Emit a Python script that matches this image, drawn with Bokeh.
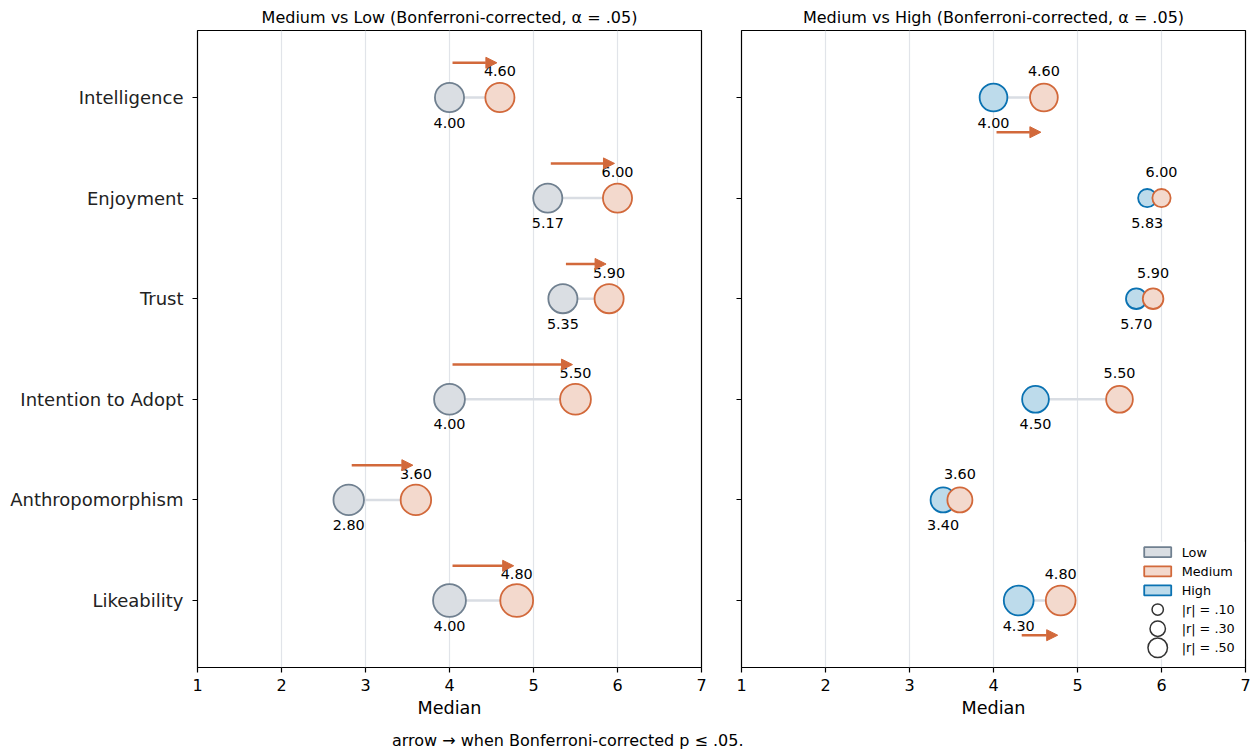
from bokeh.plotting import figure
from bokeh.models import Range1d, FixedTicker, ColumnDataSource, Arrow, NormalHead, Div
from bokeh.layouts import row, column
from bokeh.embed import file_html
from bokeh.resources import INLINE
from bokeh.core.properties import value

# ---------------- data ----------------
categories = ["Intelligence", "Enjoyment", "Trust", "Intention to Adopt",
              "Anthropomorphism", "Likeability"]
low_median = [4.00, 5.17, 5.35, 4.00, 2.80, 4.00]
medium_median = [4.60, 6.00, 5.90, 5.50, 3.60, 4.80]
high_median = [4.00, 5.83, 5.70, 4.50, 3.40, 4.30]
r_medium_vs_low = [0.38, 0.38, 0.38, 0.43, 0.42, 0.49]
r_medium_vs_high = [0.34, 0.06, 0.13, 0.31, 0.26, 0.40]
sig_medium_vs_low = [True, True, True, True, True, True]
sig_medium_vs_high = [True, False, False, False, False, True]
x_ticks = [1, 2, 3, 4, 5, 6, 7]
group_names = ["Low", "Medium", "High"]
legend_r = [0.10, 0.30, 0.50]
titles = ["Medium vs Low (Bonferroni-corrected, \u03b1 = .05)",
          "Medium vs High (Bonferroni-corrected, \u03b1 = .05)"]
x_label = "Median"
footnote = "arrow \u2192 when Bonferroni-corrected p \u2264 .05."

# ---------------- style ----------------
FONT = "DejaVu Sans"
LOW_FILL, LOW_EDGE = "#dadee3", "#708090"
MED_FILL, MED_EDGE = "#f3d9cd", "#d2693b"
HIGH_FILL, HIGH_EDGE = "#bddbeb", "#0a72b2"
ARROW_COLOR = "#d2693b"
LINK_COLOR = "#d9dde3"
GRID_COLOR = "#e1e4e9"
EDGE_W = 1.8
LEGEND_SCALE = 0.6
SHRINK = 0.036


def diam(r):
    return 18 + 34 * r


n = len(categories)
ypos = [n - 1 - i for i in range(n)]


def make_panel(title, other_vals, other_fill, other_edge, r_vals, sig,
               arrow_dy, first, show_legend):
    p = figure(frame_width=504, frame_height=637,
               x_range=Range1d(x_ticks[0], x_ticks[-1]),
               y_range=Range1d(-0.666, n - 1 + 0.666),
               output_backend="svg", toolbar_location=None,
               min_border_left=197 if first else 20,
               min_border_right=20 if first else 10,
               min_border_top=30, min_border_bottom=56,
               background_fill_color="white", border_fill_color="white",
               title=title)
    p.title.text_font = FONT
    p.title.text_font_size = "16px"
    p.title.text_font_style = "normal"
    p.title.align = "center"
    p.title.text_color = "black"
    p.title.standoff = 8

    p.outline_line_color = "black"
    p.outline_line_width = 1.2
    p.outline_line_alpha = 1

    p.xgrid.ticker = FixedTicker(ticks=x_ticks)
    p.xgrid.grid_line_color = GRID_COLOR
    p.xgrid.grid_line_width = 1.2
    p.ygrid.grid_line_color = None

    p.xaxis.ticker = FixedTicker(ticks=x_ticks)
    p.xaxis.axis_label = x_label
    p.yaxis.ticker = FixedTicker(ticks=ypos)
    for ax in (p.xaxis, p.yaxis):
        ax.axis_line_color = None
        ax.major_tick_line_color = "black"
        ax.major_tick_line_width = 1.2
        ax.major_tick_out = 5
        ax.major_tick_in = 0
        ax.minor_tick_line_color = None
        ax.major_label_text_font = FONT
        ax.axis_label_text_font = FONT
        ax.axis_label_text_font_style = "normal"
        ax.axis_label_text_font_size = "17.6px"
        ax.axis_label_text_color = "black"
    p.xaxis.major_label_text_font_size = "16px"
    p.xaxis.major_label_text_color = "black"
    p.xaxis.major_label_standoff = 6
    p.xaxis.axis_label_standoff = 4
    p.yaxis.major_label_standoff = 9
    p.yaxis.major_label_text_font_size = "18px"
    p.yaxis.major_label_text_color = "#222222"
    if first:
        p.yaxis.major_label_overrides = {y: c for y, c in zip(ypos, categories)}
    else:
        p.yaxis.major_label_overrides = {y: "" for y in ypos}

    sizes = [diam(r) - EDGE_W for r in r_vals]
    src = ColumnDataSource(dict(y=ypos, other=other_vals, med=medium_median,
                                size=sizes,
                                other_lab=[f"{v:.2f}" for v in other_vals],
                                med_lab=[f"{v:.2f}" for v in medium_median],
                                y_up=[y + 0.26 for y in ypos],
                                y_dn=[y - 0.25 for y in ypos]))
    p.segment(x0="other", y0="y", x1="med", y1="y", source=src,
              line_color=LINK_COLOR, line_width=2.5)
    p.scatter(x="other", y="y", size="size", source=src, marker="circle",
              fill_color=other_fill, line_color=other_edge, line_width=EDGE_W)
    p.scatter(x="med", y="y", size="size", source=src, marker="circle",
              fill_color=MED_FILL, line_color=MED_EDGE, line_width=EDGE_W)
    txt = dict(text_align="center", text_baseline="middle",
               text_font=value(FONT), text_font_size="14.4px",
               text_color="black")
    p.text(x="med", y="y_up", text="med_lab", source=src, **txt)
    p.text(x="other", y="y_dn", text="other_lab", source=src, **txt)

    # significance arrows
    ax0, ax1, ay = [], [], []
    for o, m, y, s in zip(other_vals, medium_median, ypos, sig):
        if s:
            d = 1 if m >= o else -1
            ax0.append(o + d * SHRINK)
            ax1.append(m - d * SHRINK)
            ay.append(y + arrow_dy)
    asrc = ColumnDataSource(dict(x0=ax0, x1=ax1, y=ay))
    p.add_layout(Arrow(end=NormalHead(size=11, fill_color=ARROW_COLOR,
                                      line_color=ARROW_COLOR, line_width=1),
                       x_start="x0", y_start="y", x_end="x1", y_end="y",
                       source=asrc, line_color=ARROW_COLOR, line_width=2.5))

    if show_legend:
        # legend (bottom-right, inside the axes)
        top_y = 0.48
        step = 0.19
        lx = 5.955
        tx = 6.24
        p.quad(left=[5.71], right=[6.99], top=[0.585], bottom=[-0.585],
               fill_color="white", line_color=None)
        fills = [LOW_FILL, MED_FILL, HIGH_FILL]
        edges = [LOW_EDGE, MED_EDGE, HIGH_EDGE]
        gy = [top_y - step * k for k in range(len(group_names))]
        p.rect(x=[lx] * 3, y=gy, width=27, height=10,
               width_units="screen", height_units="screen",
               fill_color=fills, line_color=edges, line_width=EDGE_W)
        ry = [top_y - step * (k + 3) for k in range(len(legend_r))]
        p.scatter(x=[lx] * 3, y=ry,
                  size=[diam(r) * LEGEND_SCALE - 1.5 for r in legend_r],
                  marker="circle", fill_color="white", line_color="#333333",
                  line_width=1.5)
        labels = group_names + [f"|r| = {r:.2f}".replace("0.", ".") for r in legend_r]
        p.text(x=[tx] * 6, y=gy + ry, text=labels, text_align="left",
               text_baseline="middle", text_font=value(FONT),
               text_font_size="12.8px", text_color="black")
    return p


p1 = make_panel(titles[0], low_median, LOW_FILL, LOW_EDGE, r_medium_vs_low,
                sig_medium_vs_low, 0.345, True, False)
p2 = make_panel(titles[1], high_median, HIGH_FILL, HIGH_EDGE, r_medium_vs_high,
                sig_medium_vs_high, -0.345, False, True)

note = Div(text=footnote, width=420, height=14,
           margin=(10, 0, 0, 392),
           styles={"font-family": FONT, "font-size": "16px", "color": "black",
                   "line-height": "1", "white-space": "nowrap"})

layout = column(row(p1, p2), note)
open("out.html", "w").write(file_html(layout, INLINE))
